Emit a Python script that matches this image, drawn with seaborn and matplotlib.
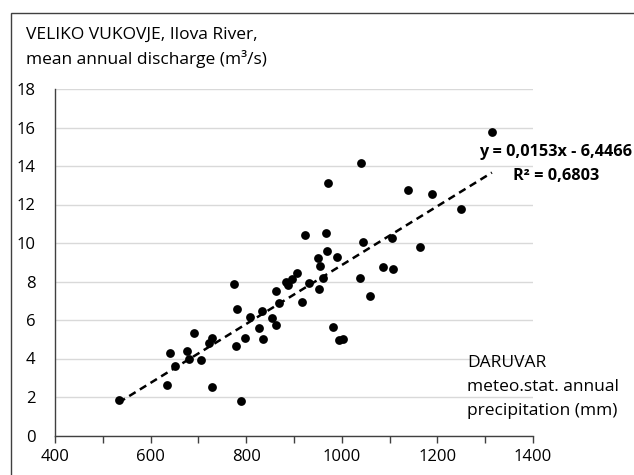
import matplotlib
matplotlib.use("Agg")
import matplotlib.pyplot as plt
from matplotlib.patches import Rectangle
import numpy as np
import pandas as pd
import seaborn as sns

# Data
precipitation_mm = [533, 634, 640, 651, 676, 680, 691, 705, 723, 728, 728,
                    775, 780, 778, 789, 798, 807, 827, 834, 836, 853, 863,
                    863, 868, 883, 888, 895, 906, 916, 924, 932, 951, 954,
                    952, 960, 966, 969, 990, 981, 995, 1002, 1038, 1045,
                    1059, 1086, 1105, 1108, 1164, 1314, 1041, 971, 1138,
                    1188, 1250]
discharge_m3s = [1.85, 2.62, 4.30, 3.63, 4.39, 3.96, 5.34, 3.91, 4.79, 5.05,
                 2.54, 7.87, 6.56, 4.65, 1.81, 5.06, 6.14, 5.57, 6.47, 5.03,
                 6.12, 7.52, 5.72, 6.87, 7.97, 7.82, 8.11, 8.46, 6.92, 10.42,
                 7.94, 9.22, 8.81, 7.60, 8.20, 10.54, 9.58, 9.26, 5.62, 4.95,
                 5.01, 8.20, 10.05, 7.23, 8.75, 10.25, 8.65, 9.78, 15.75,
                 14.14, 13.13, 12.75, 12.53, 11.78]

trend_slope = 0.0153
trend_intercept = -6.4466
trend_label = "y = 0,0153x - 6,4466\nR² = 0,6803"

x_ticks = [400, 500, 600, 700, 800, 900, 1000, 1100, 1200, 1300, 1400]
x_tick_labels = ["400", "", "600", "", "800", "", "1000", "", "1200", "", "1400"]
y_ticks = [0, 2, 4, 6, 8, 10, 12, 14, 16, 18]

title_text = "VELIKO VUKOVJE, Ilova River,\nmean annual discharge (m³/s)"
xlabel_text = "DARUVAR\nmeteo.stat. annual\nprecipitation (mm)"

sns.set_theme(style="white")
plt.rcParams['font.family'] = ['Open Sans', 'DejaVu Sans']

df = pd.DataFrame({"precip": precipitation_mm, "discharge": discharge_m3s})
trend_x = np.array([min(precipitation_mm), max(precipitation_mm)])
trend_df = pd.DataFrame({"precip": trend_x,
                         "fit": trend_slope * trend_x + trend_intercept})

W, H = 634, 475
fig = plt.figure(figsize=(W / 100, H / 100), dpi=100)
fig.patch.set_facecolor("white")
ax = fig.add_axes([55 / W, (H - 435.5) / H, (533 - 55) / W, (435.5 - 89) / H])

sns.lineplot(data=trend_df, x="precip", y="fit", ax=ax, color="black",
             linewidth=1.8, linestyle=(0, (3, 2)), zorder=2)
sns.scatterplot(data=df, x="precip", y="discharge", ax=ax, color="black",
                s=40, edgecolor="black", linewidth=0, zorder=3)

ax.set_xlim(400, 1400)
ax.set_ylim(0, 18)
ax.set_xticks(x_ticks)
ax.set_xticklabels(x_tick_labels)
ax.set_yticks(y_ticks)
ax.set_xlabel("")
ax.set_ylabel("")
ax.grid(axis="y", color="#d9d9d9", linewidth=1.0)
ax.grid(axis="x", visible=False)
ax.set_axisbelow(True)
for side in ["top", "right"]:
    ax.spines[side].set_visible(False)
for side in ["left", "bottom"]:
    ax.spines[side].set_color("#404040")
    ax.spines[side].set_linewidth(1.0)
ax.tick_params(axis="x", direction="out", length=5, width=1.0, color="#404040",
               labelsize=12, labelcolor="black", pad=5, bottom=True)
ax.tick_params(axis="y", length=0, labelsize=12, labelcolor="black", pad=14)

fig.text(26 / W, 1 - 47 / H, title_text, ha="left", va="center", fontsize=12.5,
         color="black", linespacing=1.5)
fig.text(467 / W, 1 - 387 / H, xlabel_text, ha="left", va="center",
         fontsize=12.5, color="black", linespacing=1.7)
fig.text(556 / W, 1 - 164 / H, trend_label, ha="center", va="center",
         fontsize=11.7, fontweight="bold", color="black", linespacing=1.65)

fig.patches.append(Rectangle((11 / W, -0.1), 1.2, (H - 13) / H + 0.1,
                             transform=fig.transFigure, fill=False,
                             edgecolor="#404040", linewidth=1.0))

fig.savefig("out.png", dpi=100, facecolor="white")
